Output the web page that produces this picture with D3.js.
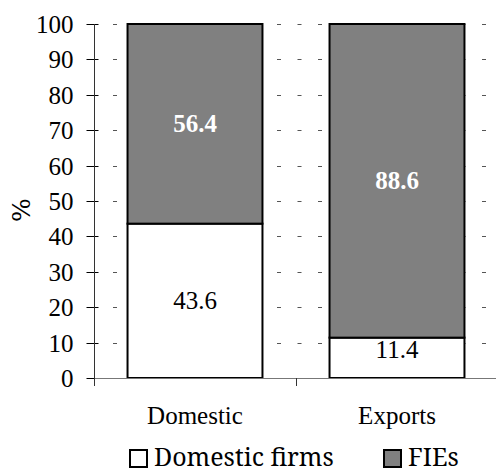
<!DOCTYPE html>
<html>
<head>
<meta charset="utf-8">
<script src="https://cdn.jsdelivr.net/npm/d3@7"></script>
</head>
<body style="margin:0">
<svg id="fig" width="496" height="468" style="display:block"></svg>
<script>
// Shares of sales by ownership type, in percent
const categories = ["Domestic", "Exports"];
const domesticFirms = [43.6, 11.4];
const fies = [56.4, 88.6];
const yTicks = [0, 10, 20, 30, 40, 50, 60, 70, 80, 90, 100];
const seriesNames = ["Domestic firms", "FIEs"];
const seriesFills = ["#ffffff", "#808080"];

const FS = "25px";
// text font helper
const face = f => sel => sel.style("font-family", `"${f}"`).style("font-size", FS);

const svg = d3.select("#fig");
const plotLeft = 94, plotRight = 498, plotTop = 24, plotBottom = 378;

const y = d3.scaleLinear().domain([0, 100]).range([plotBottom, plotTop]);
const x = d3.scaleBand().domain(categories).range([plotLeft, plotRight])
  .paddingInner(0.332).paddingOuter(0.166);

// dashed horizontal gridlines
svg.append("g").selectAll("line").data(yTicks.filter(d => d > 0)).join("line")
  .attr("x1", plotLeft + 19).attr("x2", plotRight)
  .attr("y1", d => Math.round(y(d)) + 0.5).attr("y2", d => Math.round(y(d)) + 0.5)
  .attr("stroke", "#555").attr("stroke-width", 1)
  .attr("stroke-dasharray", "4,16.5");

// stacked bars
const segs = [];
categories.forEach((c, i) => {
  let acc = 0;
  [domesticFirms[i], fies[i]].forEach((v, k) => {
    segs.push({ c, k, v, y0: acc, y1: acc + v });
    acc += v;
  });
});

svg.append("g").selectAll("rect").data(segs).join("rect")
  .attr("x", d => x(d.c))
  .attr("width", x.bandwidth())
  .attr("y", d => y(d.y1))
  .attr("height", d => y(d.y0) - y(d.y1))
  .attr("fill", d => seriesFills[d.k])
  .attr("stroke", "#000").attr("stroke-width", 2);

// value labels
svg.append("g").selectAll("text").data(segs).join("text")
  .attr("x", d => x(d.c) + x.bandwidth() / 2)
  .attr("y", d => {
    const h = y(d.y0) - y(d.y1);
    const mid = (y(d.y0) + y(d.y1)) / 2;
    return h < 50 ? y(d.y1) + 20 : mid + 8;
  })
  .attr("text-anchor", "middle")
  .call(face("Tinos"))
  .style("font-weight", d => d.k === 1 ? "bold" : "normal")
  .attr("fill", d => d.k === 1 ? "#fff" : "#000")
  .text(d => d.v.toFixed(1));

// y axis tick labels and cross ticks
const yg = svg.append("g").selectAll("g").data(yTicks).join("g")
  .attr("transform", d => `translate(${plotLeft + 0.5},${Math.round(y(d)) + 0.5})`);
yg.append("line").attr("x1", -8).attr("x2", 4).attr("stroke", "#000");
yg.append("text").attr("x", -21).attr("dy", "0.34em").attr("text-anchor", "end")
  .call(face("Times New Roman")).attr("fill", "#000").text(d => d3.format("d")(d));
svg.append("line").attr("x1", plotLeft + 0.5).attr("x2", plotLeft + 0.5)
  .attr("y1", plotTop).attr("y2", plotBottom + 8).attr("stroke", "#333");

// x axis
svg.append("line").attr("x1", plotLeft).attr("x2", plotRight)
  .attr("y1", plotBottom + 0.5).attr("y2", plotBottom + 0.5).attr("stroke", "#777");
const step = x.step();
const bounds = [plotLeft, x(categories[0]) + x.bandwidth() + (step - x.bandwidth()) / 2];
svg.append("g").selectAll("line").data(bounds).join("line")
  .attr("x1", d => Math.round(d) + 0.5).attr("x2", d => Math.round(d) + 0.5)
  .attr("y1", plotBottom).attr("y2", plotBottom + 8).attr("stroke", "#333");
svg.append("g").selectAll("text").data(categories).join("text")
  .attr("x", d => x(d) + x.bandwidth() / 2)
  .attr("y", 424)
  .attr("text-anchor", "middle")
  .call(face("Liberation Serif"))
  .text(d => d);

// y axis title
svg.append("text").attr("transform", "translate(30,210) rotate(-90)")
  .attr("text-anchor", "middle").call(face("DejaVu Serif")).text("%");

// legend
const legendX = [129, 383];
const lg = svg.append("g").selectAll("g").data(seriesNames).join("g")
  .attr("transform", (d, i) => `translate(${legendX[i]},449)`);
lg.append("rect").attr("x", 1).attr("y", 1).attr("width", 17).attr("height", 17)
  .attr("fill", (d, i) => seriesFills[i]).attr("stroke", "#000").attr("stroke-width", 2);
lg.append("text").attr("x", 25).attr("y", 17).call(face("Noto Serif")).text(d => d);
</script>
</body>
</html>
